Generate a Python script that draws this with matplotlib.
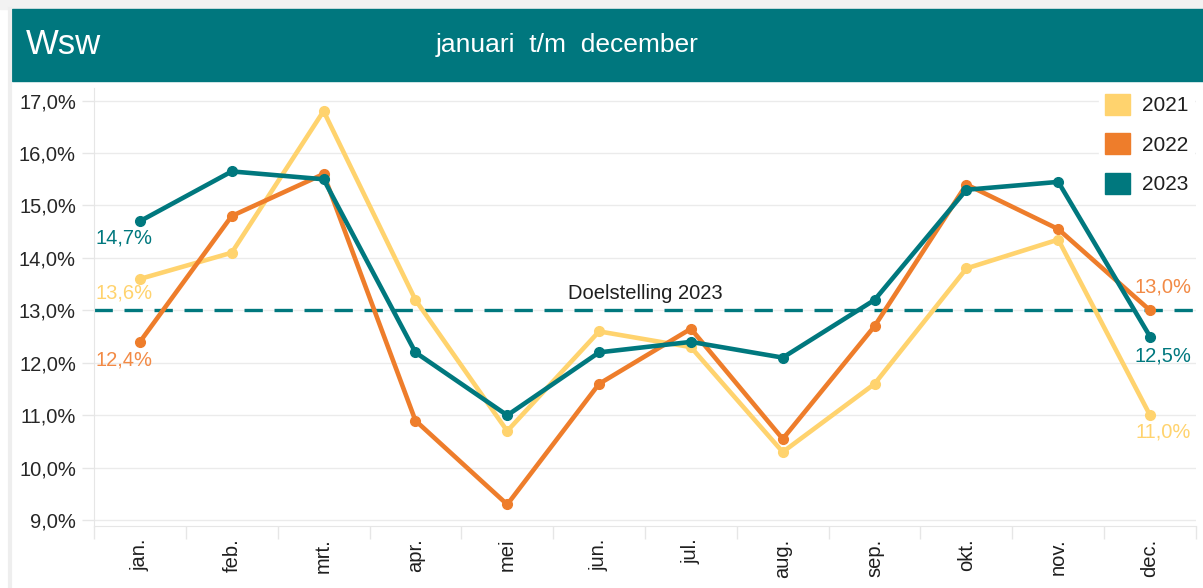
import matplotlib
matplotlib.use("Agg")
import matplotlib.pyplot as plt
from matplotlib.patches import Rectangle
from matplotlib.lines import Line2D

months = ["jan.", "feb.", "mrt.", "apr.", "mei", "jun.", "jul.", "aug.", "sep.", "okt.", "nov.", "dec."]
s2021 = [13.6, 14.1, 16.8, 13.2, 10.7, 12.6, 12.3, 10.3, 11.6, 13.8, 14.35, 11.0]
s2022 = [12.4, 14.8, 15.6, 10.9, 9.3, 11.6, 12.65, 10.55, 12.7, 15.4, 14.55, 13.0]
s2023 = [14.7, 15.65, 15.5, 12.2, 11.0, 12.2, 12.4, 12.1, 13.2, 15.3, 15.45, 12.5]
series_names = ["2021", "2022", "2023"]
target = 13.0
target_label = "Doelstelling 2023"
yticks = [9, 10, 11, 12, 13, 14, 15, 16, 17]

C21 = "#FFD36E"
C22 = "#EE7D2B"
C23 = "#00787E"
HEADER = "#00777E"
colors = [C21, C22, C23]

W, H = 1203, 588
fig = plt.figure(figsize=(W / 100, H / 100), dpi=100)
fig.patch.set_facecolor("white")
plt.rcParams['font.family'] = ['Liberation Sans', 'DejaVu Sans']

# background frame
fig.add_artist(Rectangle((0, 1 - 9 / H), 1, 9 / H, transform=fig.transFigure, color="#F2F2F2", zorder=0))
fig.add_artist(Line2D([10 / W, 10 / W], [0, 1 - 9 / H], transform=fig.transFigure, color="#EEEEEE", lw=3))
# header
fig.add_artist(Rectangle((12 / W, 1 - 81 / H), 1 - 12 / W, 72 / H, transform=fig.transFigure,
                         color=HEADER, zorder=1))
fig.text(26 / W, 1 - 45 / H, "Wsw", color="white", fontsize=25, va="center", ha="left")
fig.text(567 / W, 1 - 45 / H, "januari  t/m  december", color="white", fontsize=19, va="center", ha="center")

top_px, bot_px = 88, 526
ax = fig.add_axes([94 / W, 1 - bot_px / H, (1196 - 94) / W, (bot_px - top_px) / H])
ax.set_facecolor("white")

x = list(range(len(months)))
for vals, col, name in zip([s2021, s2022, s2023], colors, series_names):
    ax.plot(x, vals, color=col, lw=3.3, marker="o", ms=7, solid_capstyle="round", zorder=3, label=name)

ax.axhline(target, color=C23, lw=2.4, ls=(0, (5.5, 3.5)), zorder=2)
ax.annotate(target_label, xy=(5.5, target), xytext=(0, 17), textcoords="offset pixels",
            ha="center", va="center", fontsize=14.5, color="#1F1F1F")

# data labels
lab_col = {"2021": "#FFD36E", "2022": "#F28A45", "2023": "#00787E"}
first_offsets = [(-44, 14), (-44, 18), (-44, 17)]
last_offsets = [(13, 17), (13, -23), (13, 19)]
for vals, name, fo, lo in zip([s2021, s2022, s2023], series_names, first_offsets, last_offsets):
    ax.annotate(f"{vals[0]:.1f}%".replace(".", ","), xy=(0, vals[0]), xytext=(fo[0], -fo[1]),
                textcoords="offset pixels", ha="left", va="center", fontsize=14.5, color=lab_col[name])
    ax.annotate(f"{vals[-1]:.1f}%".replace(".", ","), xy=(11, vals[-1]), xytext=(lo[0], -lo[1]),
                textcoords="offset pixels", ha="center", va="center", fontsize=14.5, color=lab_col[name])

ax.set_xlim(-0.5, 11.5)
ax.set_ylim(8.89, 17.24)
ax.set_yticks(yticks)
ax.set_yticklabels([f"{v:.1f}%".replace(".", ",") for v in yticks])
ax.set_xticks(x)
ax.set_xticklabels(months, rotation=90)
ax.set_xticks([i + 0.5 for i in range(-1, 12)], minor=True)
ax.tick_params(axis="x", which="major", length=0, pad=9, labelsize=14.5, labelcolor="#1F1F1F")
ax.tick_params(axis="x", which="minor", length=9, color="#E6E6E6", width=1)
ax.tick_params(axis="y", length=9, color="#E6E6E6", width=1, labelsize=14.5, labelcolor="#262626", pad=4)
ax.grid(axis="y", color="#EBEBEB", lw=1, zorder=0)
for s in ["top", "right"]:
    ax.spines[s].set_visible(False)
ax.spines["left"].set_color("#E6E6E6")
ax.spines["bottom"].set_color("#E6E6E6")

# legend
handles = [Rectangle((0, 0), 1, 1, color=c) for c in colors]
leg = ax.legend(handles, series_names, loc="upper right", bbox_to_anchor=(1.008, 1.025), frameon=True,
                fontsize=15, handlelength=1.2, handleheight=1.2, handletextpad=0.55, labelspacing=0.85,
                borderpad=0.3, facecolor="white", edgecolor="white", framealpha=1)
for t in leg.get_texts():
    t.set_color("#1F1F1F")

fig.savefig("out.png", dpi=100, facecolor=fig.get_facecolor())
